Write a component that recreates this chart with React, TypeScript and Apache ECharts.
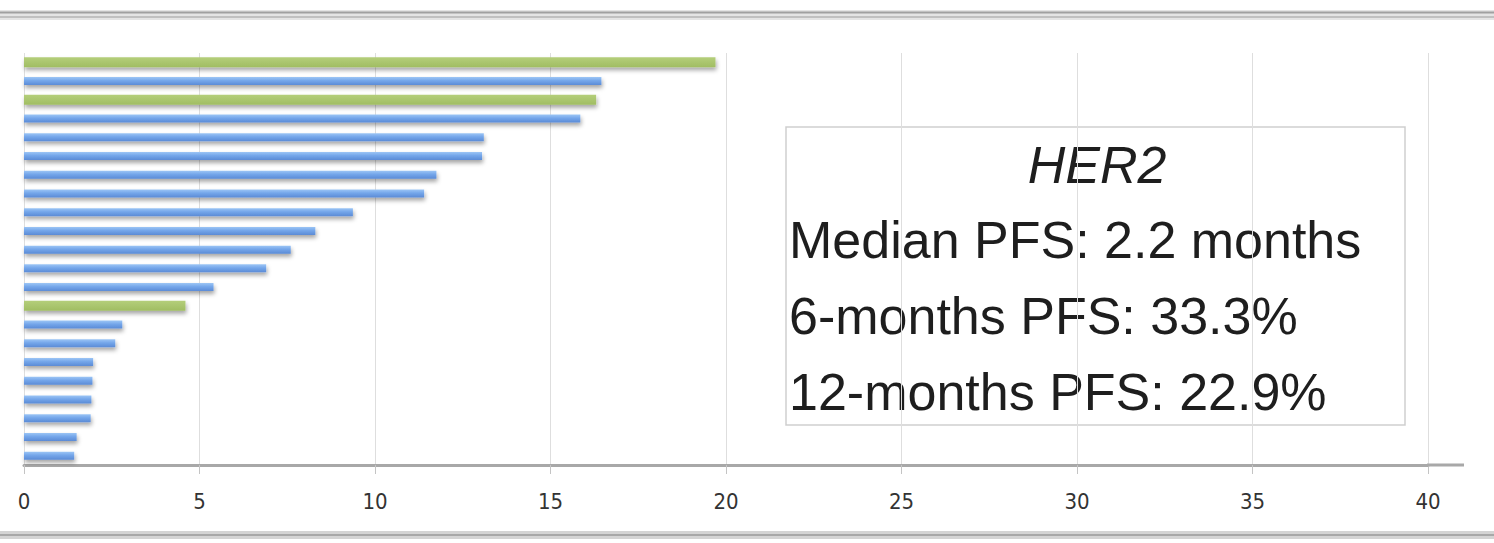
import React, { useEffect, useRef } from "react";
import * as echarts from "echarts";

const patients = ["1", "2", "3", "4", "5", "6", "7", "8", "9", "10", "11", "12", "13", "14", "15", "16", "17", "18", "19", "20", "21", "22"];
const pfsMonths = [19.7, 16.45, 16.3, 15.85, 13.1, 13.05, 11.75, 11.4, 9.37, 8.3, 7.6, 6.9, 5.4, 4.6, 2.8, 2.6, 1.97, 1.95, 1.92, 1.9, 1.5, 1.43];
const highlighted = [true, false, true, false, false, false, false, false, false, false, false, false, false, true, false, false, false, false, false, false, false, false];
const xTicks = { min: 0, max: 40, interval: 5 };

const boxTitle = "HER2";
const boxLines = ["Median PFS: 2.2 months", "6-months PFS: 33.3%", "12-months PFS: 22.9%"];

export default function App() {
  const ref = useRef<HTMLDivElement>(null);
  useEffect(() => {
    const chart = echarts.init(ref.current!, null, { renderer: "svg" });
    const blueGrad = new echarts.graphic.LinearGradient(0, 0, 0, 1, [
      { offset: 0, color: "#9cc5f5" },
      { offset: 0.45, color: "#74a6ea" },
      { offset: 1, color: "#5b8bd6" },
    ]);
    const greenGrad = new echarts.graphic.LinearGradient(0, 0, 0, 1, [
      { offset: 0, color: "#b4ce7a" },
      { offset: 1, color: "#a0bd62" },
    ]);
    const blueData = pfsMonths.map((v, i) => (highlighted[i] ? null : v));
    const greenData = pfsMonths.map((v, i) => (highlighted[i] ? v : null));
    const shadow = {
      shadowColor: "rgba(0,0,0,0.35)",
      shadowBlur: 4,
      shadowOffsetX: 1,
      shadowOffsetY: 3,
    };
    const textStyleBase = {
      fontFamily: "'Liberation Sans', Arial, sans-serif",
      fontSize: 52,
      fill: "#1e1e1e",
      verticalAlign: "middle",
    };
    chart.setOption({
      animation: false,
      backgroundColor: "#ffffff",
      grid: { left: 24, right: 66, top: 53, bottom: 78 },
      xAxis: {
        type: "value",
        min: xTicks.min,
        max: xTicks.max,
        interval: xTicks.interval,
        axisLine: { show: true, lineStyle: { color: "#a8a8a8", width: 3 } },
        axisTick: { show: true, length: 9, lineStyle: { color: "#c4c4c4", width: 1 } },
        axisLabel: {
          margin: 25,
          fontFamily: "'Liberation Sans Narrow', 'DejaVu Sans Condensed', sans-serif",
          fontSize: 22,
          color: "#333",
        },
        splitLine: { show: true, lineStyle: { color: "#dedede", width: 1 } },
      },
      yAxis: [
        {
          type: "category",
          data: patients,
          inverse: true,
          axisLine: { show: false },
          axisTick: { show: false },
          axisLabel: { show: false },
          splitLine: { show: false },
        },
        {
          type: "category",
          data: patients,
          inverse: true,
          axisLine: { show: false },
          axisTick: { show: false },
          axisLabel: { show: false },
          splitLine: { show: false },
        },
      ],
      series: [
        {
          type: "bar",
          yAxisIndex: 0,
          data: blueData,
          barWidth: 8,
          itemStyle: { color: blueGrad, ...shadow },
        },
        {
          type: "bar",
          yAxisIndex: 1,
          data: greenData,
          barWidth: 10,
          itemStyle: { color: greenGrad, ...shadow },
        },
      ],
      graphic: [
        {
          type: "line",
          shape: { x1: 1427, y1: 465, x2: 1464, y2: 465 },
          style: { stroke: "#a8a8a8", lineWidth: 3 },
          z: 5,
        },
        {
          type: "rect",
          shape: { x: 0, y: 10, width: 1494, height: 10 },
          style: { fill: "#e4e4e4" },
          z: 5,
        },
        {
          type: "line",
          shape: { x1: 0, y1: 12.5, x2: 1494, y2: 12.5 },
          style: { stroke: "#a0a0a0", lineWidth: 2 },
          z: 6,
        },
        {
          type: "line",
          shape: { x1: 0, y1: 17, x2: 1494, y2: 17 },
          style: { stroke: "#c0c0c0", lineWidth: 2 },
          z: 6,
        },
        {
          type: "rect",
          shape: { x: 0, y: 531, width: 1494, height: 8 },
          style: { fill: "#d4d4d4" },
          z: 5,
        },
        {
          type: "line",
          shape: { x1: 0, y1: 535, x2: 1494, y2: 535 },
          style: { stroke: "#a8a8a8", lineWidth: 2 },
          z: 6,
        },
        {
          type: "group",
          z: 10,
          children: [
            {
              type: "rect",
              shape: { x: 786, y: 127, width: 619, height: 298 },
              style: { fill: "#ffffff", stroke: "#cfcfcf", lineWidth: 1.5 },
            },
            {
              type: "text",
              x: 1097,
              y: 165,
              style: {
                ...textStyleBase,
                text: boxTitle,
                fontStyle: "italic",
                textAlign: "center",
              },
            },
            ...boxLines.map((t, i) => ({
              type: "text",
              x: 789,
              y: 240 + i * 76,
              style: {
                ...textStyleBase,
                text: t,
                textAlign: "left",
              },
            })),
          ],
        },
      ],
    });
    return () => chart.dispose();
  }, []);
  return (
    <div
      ref={ref}
      style={{ position: "absolute", left: 0, top: 0, width: 1494, height: 543, background: "#fff" }}
    />
  );
}
